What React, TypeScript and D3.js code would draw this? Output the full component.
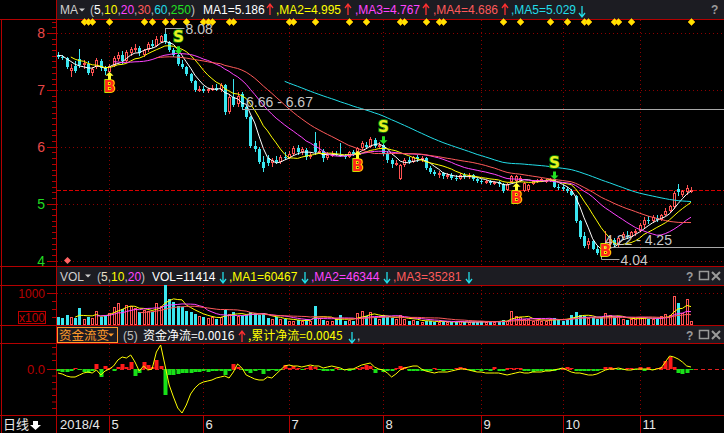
import React from 'react';
import * as d3 from 'd3';

// ---- data ----
const monthLabels = ['2018/4', '5', '6', '7', '8', '9', '10', '11'];
const monthStartIdx = [0, 12, 34, 54, 76, 99, 118, 136];

// closes of the days before the visible window (only used for the MAs)
const priorCloses = [7.72, 7.68, 7.6, 7.66, 7.62, 7.58];

// daily [open, high, low, close]
const ohlc: number[][] = [
  // Apr
  [7.62, 7.66, 7.55, 7.58], [7.58, 7.62, 7.52, 7.56], [7.56, 7.58, 7.36, 7.4], [7.34, 7.46, 7.22, 7.38],
  [7.42, 7.5, 7.3, 7.33], [7.55, 7.72, 7.38, 7.44], [7.44, 7.52, 7.36, 7.48], [7.46, 7.5, 7.26, 7.3],
  [7.3, 7.4, 7.24, 7.36], [7.4, 7.56, 7.36, 7.52], [7.5, 7.54, 7.34, 7.38], [7.38, 7.42, 7.26, 7.34],
  // May
  [7.32, 7.45, 7.25, 7.42], [7.42, 7.6, 7.4, 7.56], [7.54, 7.66, 7.5, 7.62], [7.62, 7.68, 7.45, 7.5],
  [7.5, 7.7, 7.48, 7.66], [7.64, 7.76, 7.6, 7.72], [7.7, 7.8, 7.66, 7.74], [7.74, 7.78, 7.6, 7.64],
  [7.62, 7.72, 7.58, 7.7], [7.7, 7.84, 7.66, 7.8], [7.8, 7.88, 7.74, 7.78], [7.78, 7.94, 7.76, 7.9],
  [7.84, 7.96, 7.82, 7.94], [7.98, 8.08, 7.8, 7.84], [7.84, 7.86, 7.66, 7.7], [7.7, 7.74, 7.58, 7.62],
  [7.62, 7.66, 7.42, 7.46], [7.46, 7.52, 7.36, 7.4], [7.4, 7.42, 7.24, 7.28], [7.28, 7.3, 7.12, 7.16],
  [7.16, 7.18, 6.96, 7.0], [7.0, 7.06, 6.96, 7.02],
  // Jun
  [7.02, 7.06, 6.94, 6.98], [6.98, 7.04, 6.94, 7.02], [7.02, 7.08, 6.98, 7.04], [7.04, 7.1, 6.98, 7.0],
  [7.0, 7.12, 6.96, 7.08], [7.08, 7.1, 6.56, 6.62], [6.62, 6.92, 6.58, 6.88], [6.88, 7.2, 6.7, 6.74],
  [6.76, 6.96, 6.7, 6.9], [6.92, 6.96, 6.66, 6.7], [6.7, 6.72, 6.48, 6.52], [6.52, 6.54, 5.98, 6.02],
  [6.02, 6.1, 5.9, 5.96], [5.96, 6.0, 5.7, 5.74], [5.74, 5.84, 5.56, 5.62], [5.8, 5.86, 5.66, 5.72],
  [5.72, 5.8, 5.64, 5.76], [5.76, 5.84, 5.7, 5.74], [5.74, 5.86, 5.7, 5.82], [5.82, 5.9, 5.76, 5.8],
  // Jul
  [5.8, 5.92, 5.78, 5.88], [5.88, 6.02, 5.84, 5.98], [5.98, 6.04, 5.86, 5.9], [5.9, 6.0, 5.86, 5.96],
  [5.94, 5.98, 5.76, 5.82], [5.82, 5.9, 5.78, 5.86], [6.06, 6.26, 5.86, 5.9], [5.9, 6.1, 5.88, 5.92],
  [5.92, 5.96, 5.74, 5.8], [5.8, 5.9, 5.76, 5.86], [5.86, 5.92, 5.82, 5.88], [5.88, 5.92, 5.84, 5.86],
  [5.86, 6.06, 5.82, 5.84], [5.84, 5.88, 5.78, 5.82], [5.82, 5.92, 5.8, 5.9], [5.9, 5.94, 5.84, 5.88],
  [5.88, 6.0, 5.86, 5.98], [5.98, 6.1, 5.94, 6.06], [6.04, 6.08, 5.96, 6.0], [6.0, 6.18, 5.98, 6.14],
  [6.12, 6.16, 5.98, 6.02], [6.02, 6.08, 5.98, 6.04],
  // Aug
  [6.04, 6.08, 5.84, 5.88], [5.88, 5.92, 5.72, 5.76], [5.76, 5.8, 5.62, 5.7], [5.7, 5.76, 5.66, 5.72],
  [5.44, 5.7, 5.42, 5.68], [5.68, 5.8, 5.64, 5.76], [5.76, 5.82, 5.7, 5.74], [5.74, 5.84, 5.72, 5.82],
  [5.82, 5.86, 5.74, 5.78], [5.78, 5.84, 5.74, 5.8], [5.8, 5.82, 5.6, 5.62], [5.62, 5.66, 5.52, 5.56],
  [5.56, 5.6, 5.48, 5.52], [5.52, 5.58, 5.46, 5.54], [5.54, 5.56, 5.44, 5.48], [5.48, 5.54, 5.44, 5.5],
  [5.5, 5.54, 5.42, 5.46], [5.46, 5.5, 5.4, 5.44], [5.44, 5.54, 5.42, 5.5], [5.5, 5.54, 5.44, 5.48],
  [5.48, 5.54, 5.44, 5.5], [5.5, 5.52, 5.4, 5.44], [5.44, 5.46, 5.36, 5.4],
  // Sep
  [5.4, 5.44, 5.34, 5.38], [5.38, 5.42, 5.34, 5.4], [5.4, 5.42, 5.32, 5.36], [5.36, 5.4, 5.32, 5.38],
  [5.38, 5.4, 5.3, 5.34], [5.34, 5.36, 5.18, 5.22], [5.24, 5.36, 5.22, 5.34], [5.38, 5.5, 5.36, 5.48],
  [5.4, 5.5, 5.3, 5.48], [5.4, 5.48, 5.38, 5.46], [5.22, 5.38, 5.2, 5.36], [5.24, 5.34, 5.2, 5.32],
  [5.34, 5.42, 5.32, 5.4], [5.38, 5.44, 5.36, 5.42], [5.4, 5.46, 5.38, 5.44], [5.4, 5.44, 5.36, 5.42],
  [5.4, 5.46, 5.38, 5.44], [5.44, 5.46, 5.28, 5.3], [5.3, 5.34, 5.24, 5.28],
  // Oct
  [5.3, 5.32, 5.22, 5.26], [5.26, 5.3, 5.18, 5.22], [5.22, 5.26, 5.14, 5.16], [5.14, 5.16, 4.66, 4.7],
  [4.7, 4.72, 4.38, 4.42], [4.44, 4.5, 4.22, 4.26], [4.28, 4.4, 4.2, 4.34], [4.34, 4.36, 4.18, 4.2],
  [4.2, 4.26, 4.1, 4.14], [4.18, 4.24, 4.04, 4.08], [4.12, 4.52, 4.1, 4.3], [4.3, 4.42, 4.24, 4.38],
  [4.36, 4.4, 4.22, 4.28], [4.28, 4.44, 4.24, 4.4], [4.4, 4.5, 4.36, 4.46], [4.44, 4.52, 4.38, 4.42],
  [4.42, 4.52, 4.4, 4.5], [4.48, 4.56, 4.44, 4.52],
  // Nov
  [4.52, 4.66, 4.5, 4.62], [4.62, 4.76, 4.58, 4.72], [4.72, 4.78, 4.64, 4.7], [4.7, 4.8, 4.66, 4.76],
  [4.74, 4.8, 4.68, 4.72], [4.72, 4.82, 4.7, 4.8], [4.8, 4.92, 4.78, 4.88], [4.88, 4.98, 4.84, 4.96],
  [4.94, 5.22, 4.9, 5.18], [5.26, 5.34, 5.14, 5.2], [5.16, 5.24, 5.12, 5.22], [5.2, 5.32, 5.16, 5.28],
  [5.22, 5.3, 5.18, 5.24],
];

const volumes = [
  25000, 22000, 30000, 24000, 22000, 53000, 20000, 26000, 22000, 44000, 24000, 30000,
  38000, 55000, 70000, 50000, 62000, 58000, 52000, 40000, 48000, 45000, 42000, 70000, 60000, 126000, 80000, 72000, 60000, 55000, 45000, 42000, 35000, 28000,
  25000, 22000, 24000, 20000, 26000, 46000, 34000, 40000, 28000, 30000, 32000, 42000, 38000, 30000, 36000, 22000, 18000, 24000, 20000, 18000,
  14000, 12000, 16000, 12000, 18000, 14000, 60000, 22000, 16000, 14000, 12000, 20000, 30000, 14000, 16000, 12000, 36000, 45000, 28000, 40000, 24000, 20000,
  32000, 26000, 22000, 18000, 30000, 20000, 14000, 16000, 12000, 10000, 14000, 12000, 10000, 9000, 12000, 10000, 8000, 9000, 11000, 9000, 8000, 10000, 9000,
  12000, 10000, 14000, 9000, 10000, 16000, 12000, 45000, 28000, 24000, 18000, 20000, 14000, 16000, 12000, 14000, 18000, 22000, 16000,
  14000, 20000, 32000, 40000, 30000, 28000, 22000, 24000, 20000, 26000, 36000, 30000, 24000, 28000, 18000, 16000, 18000, 20000,
  26000, 24000, 20000, 18000, 20000, 28000, 34000, 30000, 92000, 68000, 36000, 80000, 11414,
];

// 资金净流 bars and 累计 line (indicator units)
const flowBars = [
  -2, -3, -3, -2, 1, -1, -3, -4, -2, 5, -8, 3,
  1, -2, 2, 5, 2, 7, -7, -4, 7, 4, 2, 9, 3, -26, -6, -6, -5, -4, -4, -4, -3, -3,
  -2, -3, -2, -2, -2, -6, -2, 5, 2, -1, -2, -4, -2, -1, -5, -2, -1, -2, -1, 4,
  1, 3, 1, -1, 1, 3, 2, -1, -2, -2, -2, 1, -1, -1, -2, -1, 1, 2, 4, 3, -4, -1,
  -3, -2, -2, 1, 3, 2, -2, -2, -2, -2, -2, -2, 1, -1, -2, -1, -1, 1, 2, 1, -1, -2, -1,
  -2, -1, -2, 2, -2, -2, 1, 1, 1, 1, -2, -2, -3, -2, -2, -2, -2, -2, -1,
  1, 2, 1, -2, -2, -2, -2, -2, -2, -1, 2, 2, 1, -1, -1, 1, 1, -1,
  2, -2, 2, -1, 1, 2, 8, 12, 2, -4, -5, -4, -1,
];
const flowLine = [
  -4, -5, -7, -8, -8, -6, -4, -3, -4, -1, -6, -2,
  0, 3, 9, 12, 11, 14, 7, -2, 3, -1, 0, 17, 24, 4, -16, -28, -39, -44, -36, -25, -19, -15,
  -13, -12, -11, -9, -8, -7, -9, -3, 5, 1, -6, -8, -10, -11, -11, -8, -9, -5, -1, 3,
  4, 3, 3, 2, 3, 4, 3, 3, 1, 2, 3, 2, 1, -1, 0, 0, 2, 4, 5, 6, 2, 0,
  -1, -4, -8, -5, -1, 1, 2, 3, 3, 0, -2, -3, -4, -3, -3, -3, -2, -1, 0, 0, -1, -2, -3,
  -3, -4, -4, -4, -4, -5, -6, -5, -4, -3, -4, -4, -3, -3, -3, -2, -2, -1, 0,
  1, -1, -3, -4, -4, -5, -6, -6, -5, -3, -1, 0, 0, 1, 0, -1, -1, 0,
  0, 0, 0, -1, 0, 1, 7, 13, 12, 10, 7, 3, 2,
];

const maPeriods = [5, 10, 20, 30, 60];
const maColors = ['#ffffff', '#ffff00', '#ff44ff', '#ff5a5a', '#22dde8'];
const volMaPeriods = [5, 10, 20];
const volMaColors = ['#ffff00', '#ff44ff', '#ff5a5a'];

const signals = [
  { i: 12, t: 'B' }, { i: 28, t: 'S' }, { i: 70, t: 'B' }, { i: 76, t: 'S' },
  { i: 107, t: 'B' }, { i: 116, t: 'S' }, { i: 128, t: 'B' },
];
const topMarks = [6, 7, 8, 12, 20, 22, 25, 27, 30, 34, 35, 36, 40, 41, 54, 55, 60, 68, 72, 80, 81, 86, 89, 90, 104, 108, 115, 119, 123, 124, 130, 131, 134, 148];
const gaps = [
  { from: 43, lo: 6.66, hi: 6.67 },
  { from: 127, lo: 4.22, hi: 4.25 },
];
const lastClose = 5.24;

const RED = '#ff5252';
const CYAN = '#3ae6f0';
const FRAME = '#b40000';
const GRID = '#8c0000';
const FONT = '"Liberation Sans", Arial, sans-serif';
const CJK = '"Noto Sans CJK SC", sans-serif';

const upArrow = (cx: number, t: number) =>
  `M${cx},${t}L${cx + 4},${t + 4}L${cx + 1.5},${t + 4}L${cx + 1.5},${t + 8}L${cx - 1.5},${t + 8}L${cx - 1.5},${t + 4}L${cx - 4},${t + 4}Z`;
const downArrow = (cx: number, b: number) =>
  `M${cx},${b}L${cx + 4},${b - 4}L${cx + 1.5},${b - 4}L${cx + 1.5},${b - 8}L${cx - 1.5},${b - 8}L${cx - 1.5},${b - 4}L${cx - 4},${b - 4}Z`;

// thin arrow used in the legends
const Tick = ({ x, up, color, y0 }: { x: number; up: boolean; color: string; y0: number }) => {
  const top = y0 - 11, bot = y0;
  return up ? (
    <path d={`M${x},${bot}V${top + 1}M${x - 3},${top + 4}L${x},${top}L${x + 3},${top + 4}`} stroke={color} strokeWidth={1.3} fill="none" />
  ) : (
    <path d={`M${x},${top}V${bot - 1}M${x - 3},${bot - 4}L${x},${bot}L${x + 3},${bot - 4}`} stroke={color} strokeWidth={1.3} fill="none" />
  );
};

const Icons = ({ y }: { y: number }) => (
  <g stroke="#9a9a9a" fill="none" strokeWidth={1.5}>
    <text x={686} y={y + 5} fill="#9a9a9a" stroke="none" fontFamily={FONT} fontWeight="bold" fontSize={12}>?</text>
    <rect x={699.5} y={y - 4.5} width={9} height={8} />
    <path d={`M712,${y - 4}L720,${y + 4}M720,${y - 4}L712,${y + 4}`} strokeWidth={2} />
  </g>
);

export default function App() {
  const n = ohlc.length;
  const x = d3.scaleLinear().domain([0, n - 1]).range([58, 691]);
  const y = d3.scaleLinear().domain([4, 8]).range([260.6, 33]);
  const yv = d3.scaleLinear().domain([0, 100000]).range([325, 293]);
  const yf = d3.scaleLinear().domain([-1, 1]).range([370, 368]);

  const closes = ohlc.map((d) => d[3]);
  const all = priorCloses.concat(closes);
  const off = priorCloses.length;
  const ma = (p: number) =>
    closes.map((_, i) => (i + off - p + 1 < 0 ? null : (d3.mean(all.slice(i + off - p + 1, i + off + 1)) as number)));
  const vma = (p: number) =>
    volumes.map((_, i) => (i - p + 1 < 0 ? null : (d3.mean(volumes.slice(i - p + 1, i + 1)) as number)));

  const priceLine = d3.line<number | null>().defined((d) => d != null).x((_, i) => x(i)).y((d) => y(d as number));
  const volLine = d3.line<number | null>().defined((d) => d != null).x((_, i) => x(i)).y((d) => yv(d as number));
  const flowPath = d3.line<number>().x((_, i) => x(i)).y((d) => yf(d));

  const hiIdx = d3.maxIndex(ohlc, (d) => d[1]);
  const loIdx = d3.minIndex(ohlc, (d) => d[2]);

  const priceTicks = d3.range(40, 83).map((v) => v / 10);
  const isUp = (i: number) => ohlc[i][3] >= ohlc[i][0];

  return (
    <>
      <style>{'html,body{margin:0;padding:0;background:#000;overflow:hidden}'}</style>
      <svg width={724} height={433} style={{ display: 'block', background: '#000' }} fontFamily={FONT}>
        {/* header bars */}
        <rect x={57} y={0} width={667} height={19} fill="#1c1c22" />
        <rect x={57} y={267} width={667} height={18} fill="#1c1c22" />
        <rect x={57} y={326} width={667} height={17} fill="#1c1c22" />

        {/* grid */}
        <g stroke={GRID} strokeDasharray="1,3">
          {[4, 5, 6, 7, 8].map((p) => (
            <line key={p} x1={57} x2={724} y1={Math.round(y(p)) + 0.5} y2={Math.round(y(p)) + 0.5} />
          ))}
          {monthStartIdx.slice(1).map((i) => {
            const px = Math.round(x(i)) + 0.5;
            return (
              <g key={i}>
                <line x1={px} x2={px} y1={20} y2={266} />
                <line x1={px} x2={px} y1={286} y2={325} />
                <line x1={px} x2={px} y1={344} y2={415} />
              </g>
            );
          })}
          <line x1={57} x2={724} y1={293.5} y2={293.5} />
        </g>
        {/* latest close line */}
        <line x1={57} x2={724} y1={Math.round(y(lastClose)) + 0.5} y2={Math.round(y(lastClose)) + 0.5} stroke="#d80000" strokeDasharray="4,2" />

        {/* frame */}
        <g stroke={FRAME} strokeWidth={1}>
          {[19.5, 266.5, 285.5, 325.5, 343.5, 415.5].map((v) => (
            <line key={v} x1={0} x2={724} y1={v} y2={v} />
          ))}
          <line x1={56.5} x2={56.5} y1={0} y2={433} />
          <line x1={1.5} x2={1.5} y1={19} y2={433} />
        </g>

        {/* price axis */}
        <g stroke={FRAME}>
          {priceTicks.map((p) => {
            const yy = Math.round(y(p)) + 0.5;
            if (yy < 21) return null;
            const major = Math.abs(p - Math.round(p)) < 1e-6;
            return <line key={p} x1={major ? 47 : 52} x2={56} y1={yy} y2={yy} />;
          })}
        </g>
        {[8, 7, 6, 5, 4].map((p) => (
          <text key={p} x={45} y={y(p) + 5} textAnchor="end" fontSize={14} fill={p > lastClose ? '#e84848' : '#22d822'}>
            {p}
          </text>
        ))}

        {/* top markers */}
        {topMarks.map((i) => {
          const px = Math.round(x(i)) + 0.5;
          return <path key={i} d={`M${px},18.5L${px + 3.5},22L${px},25.5L${px - 3.5},22Z`} fill="#ffe400" stroke="#ffb000" strokeWidth={0.6} />;
        })}
        <path d={`M${Math.round(x(2)) + 0.5},257L${Math.round(x(2)) + 4},260.5L${Math.round(x(2)) + 0.5},264L${Math.round(x(2)) - 3},260.5Z`} fill="#ff6464" />

        {/* candles */}
        {ohlc.map(([o, h, l, c], i) => {
          const px = Math.round(x(i));
          const up = c >= o;
          const col = up ? RED : CYAN;
          const yt = Math.round(y(Math.max(o, c)));
          const yb = Math.round(y(Math.min(o, c)));
          return (
            <g key={i}>
              <line x1={px + 0.5} x2={px + 0.5} y1={Math.round(y(h))} y2={Math.round(y(l))} stroke={col} />
              {up ? (
                <rect x={px - 0.5} y={yt + 0.5} width={2} height={Math.max(yb - yt - 1, 1)} fill="#000" stroke={col} />
              ) : (
                <rect x={px - 1} y={yt} width={3} height={Math.max(yb - yt, 1)} fill={col} />
              )}
            </g>
          );
        })}

        {/* moving averages */}
        {maPeriods.map((p, k) => (
          <path key={p} d={priceLine(ma(p)) || ''} fill="none" stroke={maColors[k]} strokeWidth={1} />
        ))}

        {/* gaps */}
        {gaps.map((g) => {
          const yy = Math.round(y((g.lo + g.hi) / 2)) + 0.5;
          const gx = Math.round(x(g.from));
          return (
            <g key={g.from}>
              <line x1={gx} x2={724} y1={yy} y2={yy} stroke="#a8a8a8" />
              <text x={gx + 4} y={yy - 3} fontSize={14} fill="#c8c8c8">{`${g.lo.toFixed(2)} - ${g.hi.toFixed(2)}`}</text>
            </g>
          );
        })}

        {/* high / low labels */}
        {(() => {
          const hx = Math.round(x(hiIdx)) + 0.5;
          const hy = Math.round(y(ohlc[hiIdx][1])) + 0.5;
          const lx = Math.round(x(loIdx)) + 0.5;
          const ly = Math.round(y(ohlc[loIdx][2]));
          return (
            <g>
              <path d={`M${hx},${hy + 4}V${hy}H${hx + 19}`} stroke="#a8a8a8" fill="none" />
              <text x={hx + 20} y={hy + 5} fontSize={14} fill="#c8c8c8">{ohlc[hiIdx][1].toFixed(2)}</text>
              <path d={`M${lx},${ly - 3}V${ly + 1.5}H${lx + 18}`} stroke="#a8a8a8" fill="none" />
              <text x={lx + 19} y={ly + 7} fontSize={14} fill="#c8c8c8">{ohlc[loIdx][2].toFixed(2)}</text>
            </g>
          );
        })()}

        {/* buy / sell signals */}
        {signals.map((s) => {
          const px = Math.round(x(s.i)) + 0.5;
          if (s.t === 'B') {
            const yl = y(ohlc[s.i][2]);
            let base = yl + 16;
            const clamped = base > 256;
            if (clamped) base = 256;
            return (
              <g key={s.i}>
                {!clamped && <path d={upArrow(px, yl - 4)} fill="#ffff30" />}
                <text x={px} y={base} textAnchor="middle" fontSize={15} fontWeight="bold" fontFamily='"DejaVu Sans", sans-serif'
                  fill="#ff2a1a" stroke="#ffff00" strokeWidth={1.6} paintOrder="stroke">B</text>
              </g>
            );
          }
          const yh = y(ohlc[s.i][1]);
          return (
            <g key={s.i}>
              <path d={downArrow(px, yh + 2)} fill="#22e022" />
              <text x={px} y={yh - 10} textAnchor="middle" fontSize={15} fontWeight="bold" fontFamily='"DejaVu Sans", sans-serif'
                fill="#e8f020" stroke="#0a8a0a" strokeWidth={1.6} paintOrder="stroke">S</text>
            </g>
          );
        })}

        {/* main legend */}
        <text x={60} y={14} fontSize={12} fill="#d0d0d0">MA</text>
        <path d="M79,8.5L85,8.5L82,11.5Z" fill="#d0d0d0" />
        <text x={90} y={14} fontSize={12} fill="#c0c0c0">
          (<tspan fill="#ffffff">5</tspan>,<tspan fill="#ffff00">10</tspan>,<tspan fill="#ff44ff">20</tspan>,
          <tspan fill="#ff5a5a">30</tspan>,<tspan fill="#22dde8">60</tspan>,<tspan fill="#22e022">250</tspan>)
        </text>
        <text x={203} y={14} fontSize={12} fill="#ffffff">MA1=5.186</text>
        <Tick x={270} up color="#ff3030" y0={15} />
        <text x={276} y={14} fontSize={12} fill="#ffff00">,MA2=4.995</text>
        <Tick x={348} up color="#ff3030" y0={15} />
        <text x={355} y={14} fontSize={12} fill="#ff44ff">,MA3=4.767</text>
        <Tick x={426} up color="#ff3030" y0={15} />
        <text x={433} y={14} fontSize={12} fill="#ff5a5a">,MA4=4.686</text>
        <Tick x={505} up color="#ff3030" y0={15} />
        <text x={511} y={14} fontSize={12} fill="#22dde8">,MA5=5.029</text>
        <Tick x={582} up={false} color="#22dde8" y0={17} />
        <text x={711} y={14} fontSize={12} fontWeight="bold" fill="#9a9a9a">?</text>

        {/* volume panel */}
        {volumes.map((v, i) => {
          const px = Math.round(x(i));
          const top = Math.round(yv(v));
          const up = isUp(i);
          return up ? (
            <rect key={i} x={px - 0.5} y={top + 0.5} width={2} height={Math.max(325 - top - 1, 1)} fill="#000" stroke={RED} />
          ) : (
            <rect key={i} x={px - 1} y={top} width={3} height={Math.max(325 - top, 1)} fill={CYAN} />
          );
        })}
        {volMaPeriods.map((p, k) => (
          <path key={p} d={volLine(vma(p)) || ''} fill="none" stroke={volMaColors[k]} strokeWidth={1} />
        ))}
        <g stroke={FRAME}>
          <line x1={47} x2={56} y1={293.5} y2={293.5} />
          {[301.5, 309.5, 317.5].map((v) => <line key={v} x1={52} x2={56} y1={v} y2={v} />)}
        </g>
        <text x={45} y={298} textAnchor="end" fontSize={12} fill="#b80000">1000</text>
        <rect x={18.5} y={311.5} width={27} height={12} fill="none" stroke="#c00000" />
        <text x={32} y={321.5} textAnchor="middle" fontSize={12} fill="#c00000">x100</text>

        <text x={60} y={281} fontSize={12} fill="#d0d0d0">VOL</text>
        <path d="M85,274.5L91,274.5L88,277.5Z" fill="#d0d0d0" />
        <text x={97} y={281} fontSize={12} fill="#c0c0c0">
          (<tspan fill="#e8e0c8">5</tspan>,<tspan fill="#ffff00">10</tspan>,<tspan fill="#ff44ff">20</tspan>)
        </text>
        <text x={152} y={281} fontSize={12} fill="#ffffff">VOL=11414</text>
        <Tick x={223} up={false} color="#22dde8" y0={283} />
        <text x={229} y={281} fontSize={12} fill="#ffff00">,MA1=60467</text>
        <Tick x={305} up={false} color="#22dde8" y0={283} />
        <text x={311} y={281} fontSize={12} fill="#ff44ff">,MA2=46344</text>
        <Tick x={387} up={false} color="#22dde8" y0={283} />
        <text x={393} y={281} fontSize={12} fill="#ff5a5a">,MA3=35281</text>
        <Tick x={469} up={false} color="#22dde8" y0={283} />
        <Icons y={276} />

        {/* fund flow panel */}
        <line x1={57} x2={724} y1={369.5} y2={369.5} stroke="#e02020" strokeDasharray="4,3" />
        {flowBars.map((v, i) => {
          const px = Math.round(x(i));
          const y0 = yf(0);
          const y1 = yf(v);
          return (
            <rect key={i} x={px - 1.5} y={Math.min(y0, y1)} width={4} height={Math.max(Math.abs(y1 - y0), 1)} fill={v >= 0 ? '#ff1a1a' : '#18e018'} />
          );
        })}
        <path d={flowPath(flowLine) || ''} fill="none" stroke="#ffff00" strokeWidth={1} />
        <g stroke={FRAME}>
          <line x1={47} x2={56} y1={369.5} y2={369.5} />
          {[347, 353.5, 360, 375.5, 382, 388.5, 395, 401.5, 408].map((v) => (
            <line key={v} x1={52} x2={56} y1={v + 0.5} y2={v + 0.5} />
          ))}
        </g>
        <text x={45} y={374} textAnchor="end" fontSize={13} fill="#b80000">0.0</text>

        <rect x={57.5} y={327.5} width={60} height={15} fill="none" stroke="#ff9a2a" />
        <text x={59} y={340} fontSize={12.5} fontFamily={CJK} fill="#ff9a2a">资金流变</text>
        <path d="M108,333.5L114,333.5L111,336.5Z" fill="#ff9a2a" />
        <text x={123} y={340} fontSize={12} fill="#c0c0c0">(5)</text>
        <text x={143} y={340} fontSize={12} fontFamily={CJK} fill="#ffffff">资金净流=0.0016</text>
        <Tick x={242} up color="#ff3030" y0={342} />
        <text x={248} y={340} fontSize={12} fontFamily={CJK} fill="#ffff00">,累计净流=0.0045</text>
        <Tick x={352} up={false} color="#22dde8" y0={343} />
        <text x={357} y={340} fontSize={12} fill="#c0c0c0">,</text>
        <Icons y={335} />

        {/* date axis */}
        <text x={3} y={429} fontSize={13} fontFamily={CJK} fill="#e8e8e8">日线</text>
        <path d="M33,421H38V425H41L35.5,430L30,425H33Z" fill="#ffffff" />
        {monthStartIdx.map((i, k) => {
          const px = Math.round(x(i)) + 0.5;
          return (
            <g key={i}>
              {k > 0 && <line x1={px} x2={px} y1={416} y2={433} stroke={FRAME} />}
              <text x={k === 0 ? 60 : px + 2} y={429} fontSize={13} fill="#e8e8e8">{monthLabels[k]}</text>
            </g>
          );
        })}
      </svg>
    </>
  );
}
